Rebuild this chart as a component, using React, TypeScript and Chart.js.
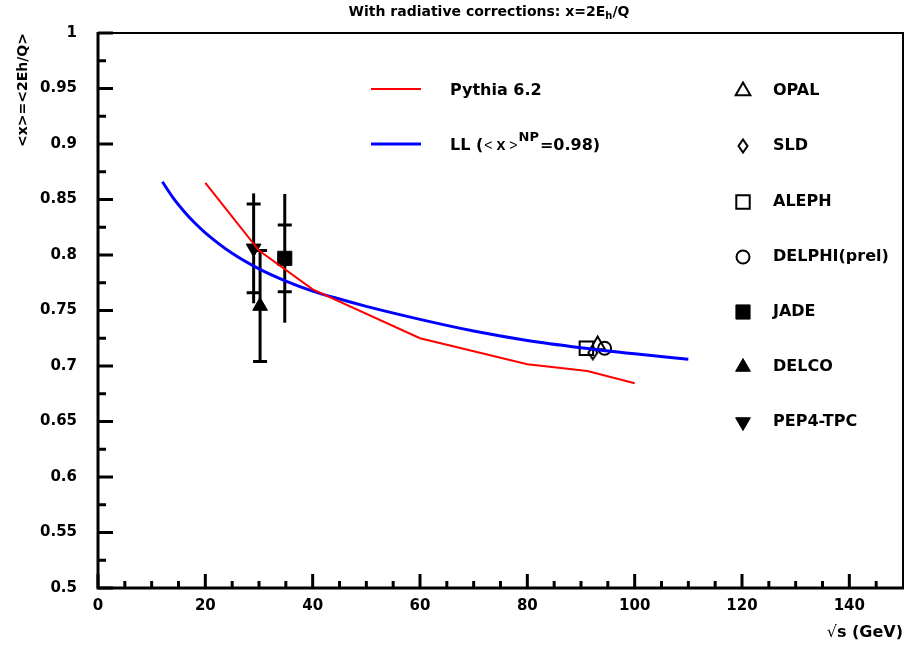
import React, { useEffect, useRef } from 'react';
import { Chart, registerables } from 'chart.js';
import { drawPoint } from 'chart.js/helpers';

Chart.register(...registerables);

const FAMILY = '"DejaVu Sans", "Liberation Sans", sans-serif';
const ARIAL = '"Liberation Sans", Arial, sans-serif';

// axis tick values
const xTicks = [0, 20, 40, 60, 80, 100, 120, 140];
const yTicks = [0.5, 0.55, 0.6, 0.65, 0.7, 0.75, 0.8, 0.85, 0.9, 0.95, 1];

// Pythia 6.2 curve
const pythiaE = [20, 30, 40, 60, 80, 91.2, 100];
const pythiaX = [0.865, 0.804, 0.769, 0.725, 0.7015, 0.6955, 0.6845];

// LL curve (<x>^NP = 0.98)
const llE = [12, 14, 16, 18, 20, 25, 30, 35, 40, 45, 50, 60, 70, 80, 90, 100, 110];
const llX = [0.866, 0.8515, 0.8395, 0.829, 0.82, 0.8015, 0.7875, 0.7765, 0.7675, 0.7603, 0.7537, 0.742, 0.7315, 0.723, 0.7165, 0.711, 0.706];

// experimental points
const expNames = ['OPAL', 'SLD', 'ALEPH', 'DELPHI(prel)', 'JADE', 'DELCO', 'PEP4-TPC'];
const expE = [93.1, 92.2, 91.0, 94.4, 34.8, 30.2, 29.0];
const expX = [0.719, 0.712, 0.716, 0.716, 0.797, 0.754, 0.806];
const expStat = [0.002, 0.002, 0.002, 0.002, 0.03, 0.05, 0.04];
const expTot = [0.003, 0.003, 0.003, 0.003, 0.058, 0.05, 0.0495];

type Part = { t: string; font: string; dy?: number; gap?: number };

function richWidth(ctx: CanvasRenderingContext2D, parts: Part[]) {
  let w = 0;
  for (const p of parts) {
    ctx.font = p.font;
    w += (p.gap || 0) + ctx.measureText(p.t).width;
  }
  return w;
}

function drawRich(ctx: CanvasRenderingContext2D, parts: Part[], x: number, y: number) {
  let cx = x;
  ctx.textAlign = 'left';
  ctx.textBaseline = 'middle';
  for (const p of parts) {
    ctx.font = p.font;
    cx += p.gap || 0;
    ctx.fillText(p.t, cx, y + (p.dy || 0));
    cx += ctx.measureText(p.t).width;
  }
}

function makeDiamond(): HTMLCanvasElement {
  const c = document.createElement('canvas');
  c.width = 12;
  c.height = 16;
  const g = c.getContext('2d')!;
  g.strokeStyle = '#000';
  g.lineWidth = 2;
  g.beginPath();
  g.moveTo(6, 1.5);
  g.lineTo(10.5, 8);
  g.lineTo(6, 14.5);
  g.lineTo(1.5, 8);
  g.closePath();
  g.stroke();
  return c;
}

export default function App() {
  const ref = useRef<HTMLCanvasElement | null>(null);

  useEffect(() => {
    if (!ref.current) return;
    const diamond = makeDiamond();
    const ms: any[] = [
      { style: 'triangle', r: 8.5, fill: false, rot: 0 },
      { style: diamond, r: 7, fill: false, rot: 0 },
      { style: 'rect', r: 9.5, fill: false, rot: 0 },
      { style: 'circle', r: 6.5, fill: false, rot: 0 },
      { style: 'rect', r: 10, fill: true, rot: 0 },
      { style: 'triangle', r: 8.5, fill: true, rot: 0 },
      { style: 'triangle', r: 8.5, fill: true, rot: 180 },
    ];

    const expSets = expNames.map((name, i) => ({
      label: name,
      data: [{ x: expE[i], y: expX[i] }],
      showLine: false,
      pointStyle: ms[i].style,
      pointRadius: ms[i].r,
      pointHoverRadius: ms[i].r,
      rotation: ms[i].rot,
      pointBackgroundColor: ms[i].fill ? '#000' : 'rgba(0,0,0,0)',
      pointBorderColor: '#000',
      pointBorderWidth: ms[i].fill ? 1 : 2,
      order: 2,
    }));

    const decor = {
      id: 'decor',
      beforeDatasetsDraw(chart: any) {
        const ctx: CanvasRenderingContext2D = chart.ctx;
        const xs = chart.scales.x;
        const ys = chart.scales.y;
        ctx.save();
        ctx.strokeStyle = '#000';
        ctx.lineWidth = 3;
        ctx.lineCap = 'butt';
        for (let i = 0; i < expNames.length; i++) {
          const px = xs.getPixelForValue(expE[i]);
          const py = ys.getPixelForValue(expX[i]);
          const r = ms[i].r;
          const t1 = ys.getPixelForValue(expX[i] + expTot[i]);
          const t2 = ys.getPixelForValue(expX[i] - expTot[i]);
          if (t2 - t1 > 2 * r) {
            ctx.beginPath();
            ctx.moveTo(px, t1);
            ctx.lineTo(px, t2);
            ctx.stroke();
          }
          const s1 = ys.getPixelForValue(expX[i] + expStat[i]);
          const s2 = ys.getPixelForValue(expX[i] - expStat[i]);
          if (py - s1 > r) {
            ctx.beginPath();
            ctx.moveTo(px - 7, s1);
            ctx.lineTo(px + 7, s1);
            ctx.moveTo(px - 7, s2);
            ctx.lineTo(px + 7, s2);
            ctx.stroke();
          }
        }
        ctx.restore();
      },
      afterDraw(chart: any) {
        const ctx: CanvasRenderingContext2D = chart.ctx;
        const xs = chart.scales.x;
        const ys = chart.scales.y;
        const { left, right, top, bottom } = chart.chartArea;
        ctx.save();
        ctx.strokeStyle = '#000';
        ctx.fillStyle = '#000';
        // ticks
        ctx.lineWidth = 3;
        ctx.beginPath();
        for (let k = 0; k <= 20; k++) {
          const v = 0.5 + k * 0.025;
          const py = ys.getPixelForValue(v);
          const len = k % 2 === 0 ? 15 : 8;
          ctx.moveTo(left, py);
          ctx.lineTo(left + len, py);
        }
        for (let v = 0; v < 150; v += 5) {
          const px = xs.getPixelForValue(v);
          const len = v % 20 === 0 ? 14 : 7;
          ctx.moveTo(px, bottom);
          ctx.lineTo(px, bottom - len);
        }
        ctx.stroke();
        // frame
        ctx.lineWidth = 2;
        ctx.beginPath();
        ctx.moveTo(left, top);
        ctx.lineTo(right, top);
        ctx.lineTo(right, bottom);
        ctx.stroke();
        ctx.lineWidth = 3;
        ctx.beginPath();
        ctx.moveTo(left, top - 1);
        ctx.lineTo(left, bottom);
        ctx.lineTo(right + 1, bottom);
        ctx.stroke();

        // title
        const title: Part[] = [
          { t: 'With radiative corrections: x=2E', font: `bold 14px ${FAMILY}` },
          { t: 'h', font: `bold 10px ${FAMILY}`, dy: 4 },
          { t: '/Q', font: `bold 14px ${FAMILY}` },
        ];
        const tw = richWidth(ctx, title);
        drawRich(ctx, title, 489 - tw / 2, 12);

        // y axis title (rotated)
        const yt: Part[] = [{ t: '<x>=<2Eh/Q>', font: `bold 14px ${FAMILY}` }];
        const yw = richWidth(ctx, yt);
        ctx.save();
        ctx.translate(23, top + yw);
        ctx.rotate(-Math.PI / 2);
        drawRich(ctx, yt, 0, 0);
        ctx.restore();

        // x axis title
        const xt: Part[] = [
          { t: '\u221A', font: `16px ${FAMILY}` },
          { t: 's (GeV)', font: `bold 16px ${FAMILY}` },
        ];
        const xw = richWidth(ctx, xt);
        drawRich(ctx, xt, right - xw, 633);

        // line legend
        ctx.lineWidth = 2;
        ctx.strokeStyle = '#ff0000';
        ctx.beginPath();
        ctx.moveTo(371, 89);
        ctx.lineTo(421, 89);
        ctx.stroke();
        ctx.lineWidth = 3;
        ctx.strokeStyle = '#0000ff';
        ctx.beginPath();
        ctx.moveTo(371, 144);
        ctx.lineTo(421, 144);
        ctx.stroke();
        ctx.fillStyle = '#000';
        drawRich(ctx, [{ t: 'Pythia 6.2', font: `bold 16px ${FAMILY}` }], 450, 91);
        drawRich(
          ctx,
          [
            { t: 'LL (', font: `bold 16px ${FAMILY}` },
            { t: '<', font: `14px ${ARIAL}`, gap: 1 },
            { t: 'x', font: `bold 16px ${ARIAL}`, gap: 4 },
            { t: '>', font: `14px ${ARIAL}`, gap: 4 },
            { t: 'NP', font: `bold 13px ${FAMILY}`, dy: -8, gap: 1 },
            { t: '=0.98)', font: `bold 16px ${FAMILY}`, gap: 1 },
          ],
          450,
          146
        );

        // marker legend
        const rows = [91, 146, 202, 257, 312, 367, 422];
        for (let i = 0; i < expNames.length; i++) {
          const m = ms[i];
          ctx.save();
          ctx.fillStyle = m.fill ? '#000' : 'rgba(0,0,0,0)';
          ctx.strokeStyle = '#000';
          ctx.lineWidth = m.fill ? 1 : 2;
          drawPoint(ctx, { pointStyle: m.style, rotation: m.rot, radius: m.r, borderWidth: m.fill ? 1 : 2 } as any, 743, rows[i]);
          ctx.restore();
          ctx.fillStyle = '#000';
          drawRich(ctx, [{ t: expNames[i], font: `bold 16px ${FAMILY}` }], 773, rows[i]);
        }
        ctx.restore();
      },
    };

    const tickFont = { family: FAMILY, size: 15, weight: 'bold' as const };

    const chart = new Chart(ref.current, {
      type: 'scatter',
      data: {
        datasets: [
          ...expSets,
          {
            label: 'Pythia 6.2',
            data: pythiaE.map((e, i) => ({ x: e, y: pythiaX[i] })),
            showLine: true,
            borderColor: '#ff0000',
            borderWidth: 2,
            pointRadius: 0,
            pointHoverRadius: 0,
            tension: 0,
            order: 1,
          },
          {
            label: 'LL',
            data: llE.map((e, i) => ({ x: e, y: llX[i] })),
            showLine: true,
            borderColor: '#0000ff',
            borderWidth: 3,
            pointRadius: 0,
            pointHoverRadius: 0,
            cubicInterpolationMode: 'monotone',
            order: 1,
          },
        ] as any,
      },
      options: {
        animation: false,
        responsive: false,
        devicePixelRatio: 1,
        events: [],
        layout: { autoPadding: false, padding: { top: 33, right: 3, left: 0, bottom: 0 } },
        plugins: { legend: { display: false }, tooltip: { enabled: false }, title: { display: false } },
        scales: {
          x: {
            type: 'linear',
            min: 0,
            max: 150,
            afterBuildTicks: (s: any) => {
              s.ticks = xTicks.map((v) => ({ value: v }));
            },
            afterFit: (s: any) => {
              s.height = 60;
              s.paddingLeft = 0;
              s.paddingRight = 0;
            },
            ticks: {
              font: tickFont,
              color: '#000',
              padding: 9,
              maxRotation: 0,
              autoSkip: false,
              callback: (v: any) => String(v),
            },
            grid: { display: false, drawTicks: false },
            border: { display: false },
          },
          y: {
            type: 'linear',
            min: 0.5,
            max: 1,
            afterBuildTicks: (s: any) => {
              s.ticks = yTicks.map((v) => ({ value: v }));
            },
            afterFit: (s: any) => {
              s.width = 98;
              s.paddingTop = 0;
              s.paddingBottom = 0;
            },
            ticks: {
              font: tickFont,
              color: '#000',
              padding: 21,
              autoSkip: false,
              callback: (v: any) => String(+Number(v).toFixed(3)),
            },
            grid: { display: false, drawTicks: false },
            border: { display: false },
          },
        },
      },
      plugins: [decor],
    });
    return () => chart.destroy();
  }, []);

  return (
    <canvas
      ref={ref}
      width={906}
      height={648}
      style={{ position: 'fixed', left: 0, top: 0, display: 'block', background: '#fff' }}
    />
  );
}
